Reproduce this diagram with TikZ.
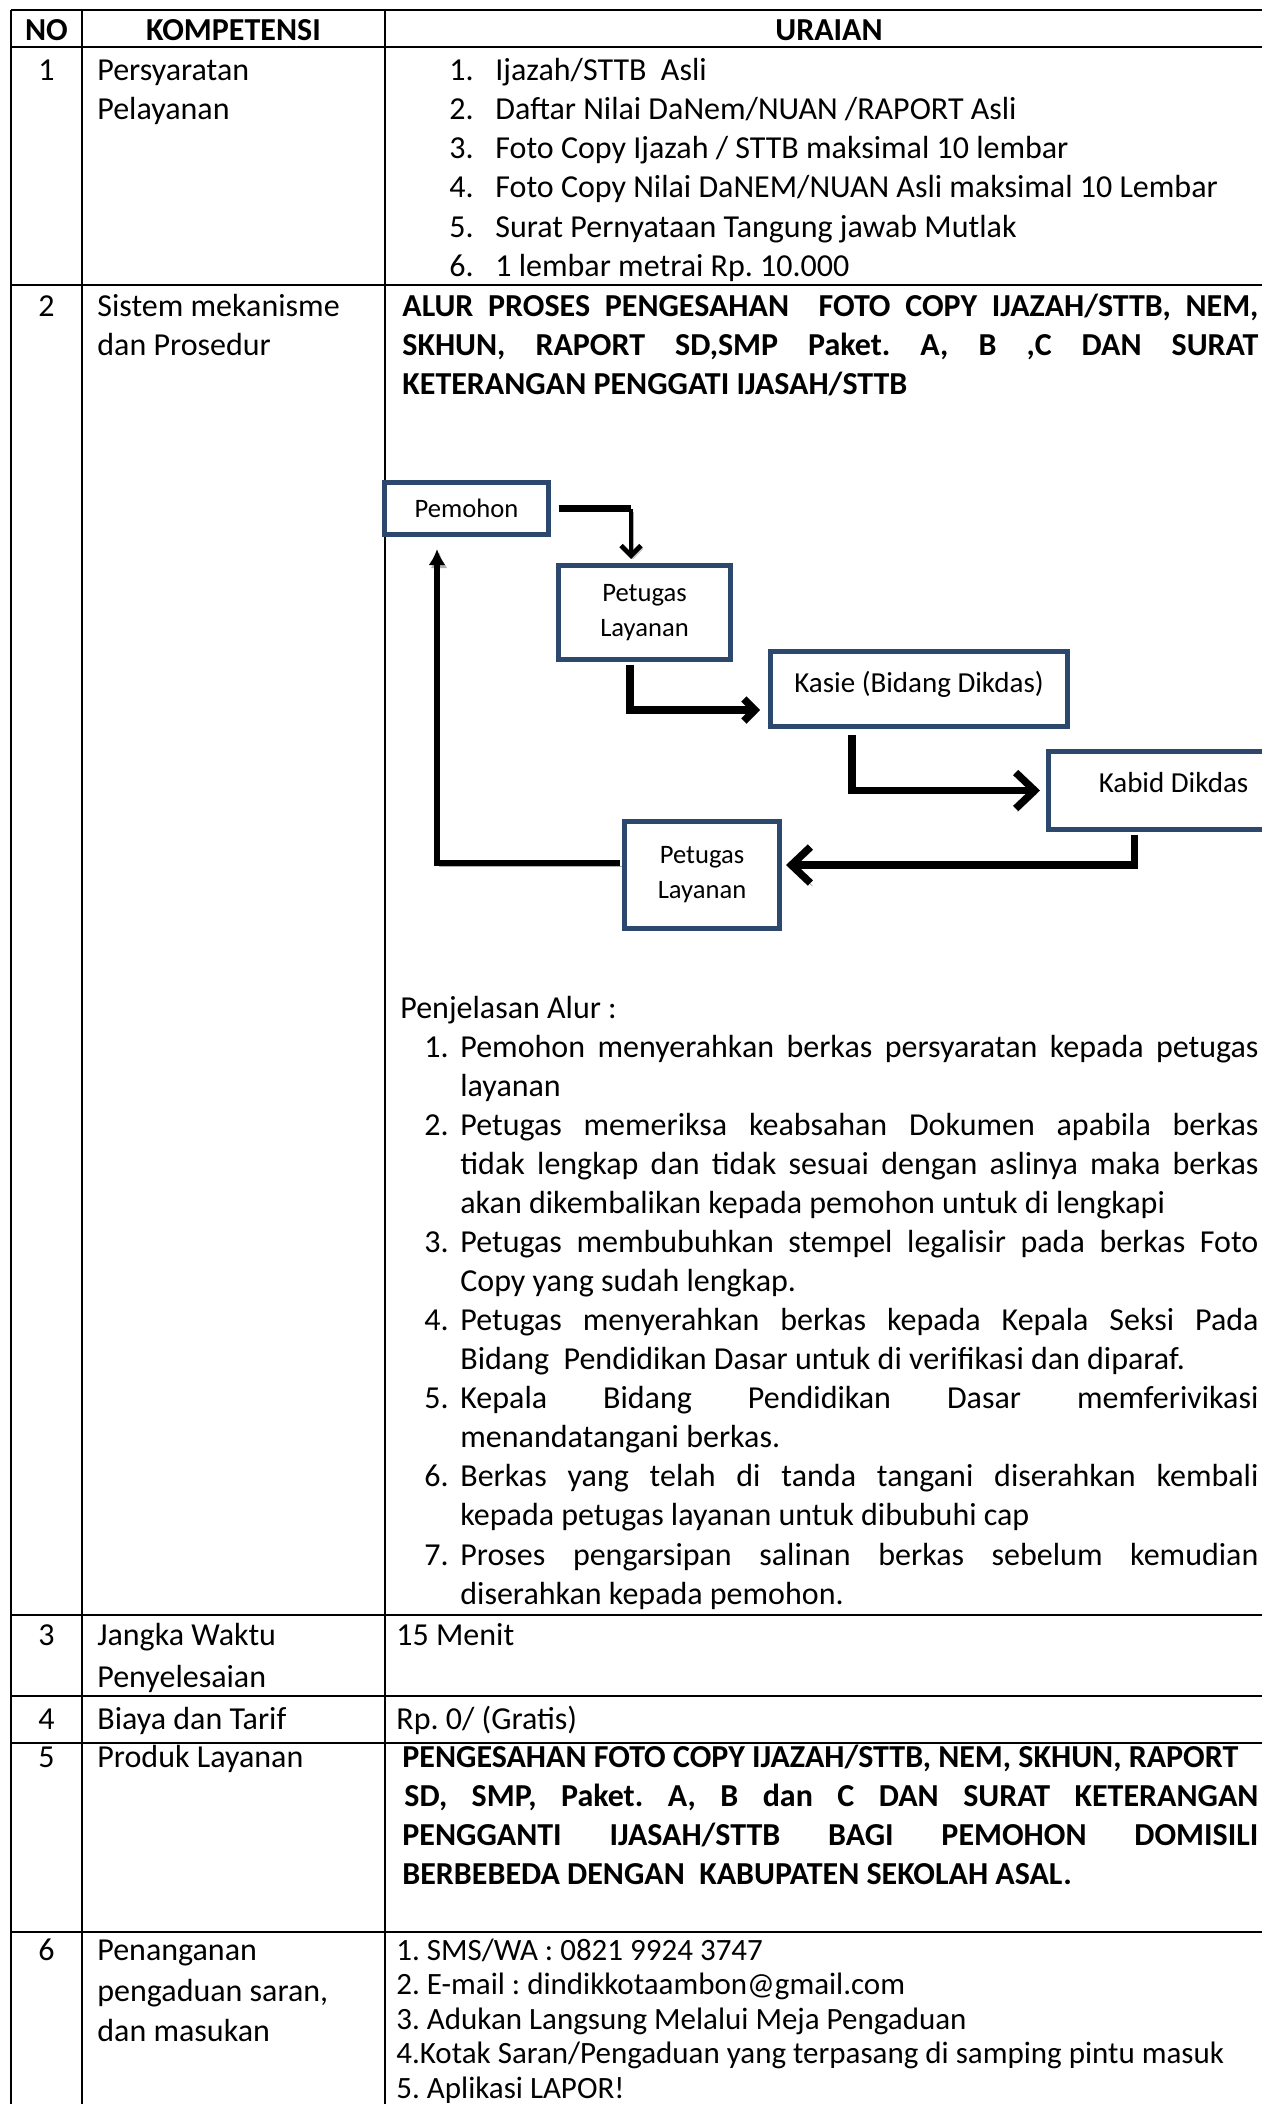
\documentclass[tikz,border=0pt]{standalone}
\usepackage{fontspec}
\setmainfont{Carlito}
\usetikzlibrary{arrows.meta,positioning}
\frenchspacing
\definecolor{boxblue}{RGB}{44,72,108}
\definecolor{shade}{RGB}{140,140,140}
\newcommand{\jline}[2]{\makebox[#1][s]{#2}}
\tikzset{
    rule/.style={line width=1.2pt},
    txt/.style={anchor=base west, inner sep=0pt, font=\fontsize{16}{19}\selectfont},
    num/.style={anchor=base, inner sep=0pt, font=\fontsize{16}{19}\selectfont},
    head/.style={anchor=base, inner sep=0pt, font=\fontsize{16}{19}\selectfont\bfseries},
    btxt/.style={txt, font=\fontsize{16}{19}\selectfont\bfseries},
    stxt/.style={txt, font=\fontsize{15.5}{18}\selectfont},
    flowbox/.style={draw=boxblue, line width=2.5pt, fill=white, align=center,
        inner sep=0pt, font=\fontsize{13.3}{17.5}\selectfont},
    shadowed/.style={preaction={draw=shade!70, transform canvas={xshift=1pt,yshift=-1.5pt}}},
    flow/.style={line width=3.7pt, shadowed},
    smallbarb/.style={-{Straight Barb[length=5.5pt,width=11pt]}},
    bigbarb/.style={-{Straight Barb[length=9.5pt,width=18pt]}}
}
\begin{document}
\begin{tikzpicture}[x=0.5pt, y=-0.5pt]
\useasboundingbox (0,0) rectangle (1262,2104);
\clip (0,0) rectangle (1262,2104);

% table rules
\foreach \r in {10,47,285,1615,1696,1743,1932}
    \draw[rule] (11,\r) -- (1280,\r);
\foreach \c in {11,82,385}
    \draw[rule] (\c,10) -- (\c,2120);

% header
\node[head] (hno) at (46.5,40) {NO};
\node[head] (hkomp) at (233.5,40) {KOMPETENSI};
\node[head] (hurai) at (829,40) {URAIAN};

% row 1
\node[num] (no1) at (46.5,80) {1};
\node[txt] (komp1) at (97,80) {Persyaratan};
\node[txt] (komp1b) at (97,119) {Pelayanan};
\foreach \t [count=\k] in {{Ijazah/STTB\ \ Asli},
        {Daftar Nilai DaNem/NUAN /RAPORT Asli},
        {Foto Copy Ijazah / STTB maksimal 10 lembar},
        {Foto Copy Nilai DaNEM/NUAN Asli maksimal 10 Lembar},
        {Surat Pernyataan Tangung jawab Mutlak},
        {1 lembar metrai Rp. 10.000}}{
    \node[txt] (reqn\k) at (449,{80+39.3*(\k-1)}) {\k.};
    \node[txt] (req\k) at (495,{80+39.3*(\k-1)}) {\t};
}

% row 2
\node[num] (no2) at (46.5,316) {2};
\node[txt] (komp2) at (97,316) {Sistem mekanisme};
\node[txt] (komp2b) at (97,355) {dan Prosedur};
\node[btxt] (ttl1) at (402,316) {\jline{428pt}{ALUR PROSES PENGESAHAN\ \ FOTO COPY IJAZAH/STTB, NEM,}};
\node[btxt] (ttl2) at (402,355) {\jline{428pt}{SKHUN, RAPORT SD,SMP Paket. A, B ,C DAN SURAT}};
\node[btxt] (ttl3) at (402,394) {KETERANGAN PENGGATI IJASAH/STTB};

% flow chart
\node[flowbox, minimum width=82pt, minimum height=26pt] (pemohon) at (466.5,508.5) {Pemohon};
\node[flowbox, minimum width=86pt, minimum height=47pt] (petugasA) at (644.5,612.5) {Petugas\\Layanan};
\node[flowbox, minimum width=148.5pt, minimum height=37.5pt, font=\fontsize{14.5}{17.5}\selectfont,
    text height=10.9pt, text depth=7.5pt] (kasie) at (919,689) {Kasie (Bidang Dikdas)};
\node[flowbox, anchor=west, minimum width=125.5pt, minimum height=39pt, font=\fontsize{14.5}{17.5}\selectfont,
    text height=10.9pt, text depth=9pt] (kabid) at (1045.5,790.5) {Kabid Dikdas};
\node[flowbox, minimum width=77.5pt, minimum height=53.5pt] (petugasB) at (702,875) {Petugas\\Layanan};

\coordinate (bend1) at (631,508.5);
\draw[flow, shorten <=3.75pt] (pemohon.east) -- (bend1);
\draw[line width=2.4pt, shadowed, -{Straight Barb[length=5pt,width=10pt]}, shorten >=2pt]
    (bend1) -- (bend1 |- petugasA.north);
\draw[flow, smallbarb, shorten <=1.25pt, shorten >=4pt]
    ([xshift=-7.25pt]petugasA.south) |- ([yshift=-10.5pt]kasie.west);
\draw[flow, bigbarb, shorten <=2.75pt, shorten >=2.75pt]
    ([xshift=-33.5pt]kasie.south) |- (kabid.west);
\draw[flow, bigbarb, shorten <=1.25pt, shorten >=2pt]
    ([xshift=-19.5pt]kabid.south) |- ([yshift=5pt]petugasB.east);
\draw[line width=3pt, shadowed, -{Latex[length=8pt,width=8.5pt]}, shorten <=1.25pt, shorten >=6pt]
    ([yshift=6pt]petugasB.west) -| ([xshift=-14.75pt]pemohon.south);

% explanation
\node[txt] (alur) at (400,1018) {Penjelasan Alur :};
\foreach \k/\l in {1/1,2/3,3/6,4/8,5/10,6/12,7/14}
    \node[txt] (alurn\k) at (424,{1018+39.07*\l}) {\k.};
\node[txt] (al1) at (460,1057.1) {\jline{399pt}{Pemohon menyerahkan berkas persyaratan kepada petugas}};
\node[txt] (al2) at (460,1096.1) {layanan};
\node[txt] (al3) at (460,1135.2) {\jline{399pt}{Petugas memeriksa keabsahan Dokumen apabila berkas}};
\node[txt] (al4) at (460,1174.3) {\jline{399pt}{tidak lengkap dan tidak sesuai dengan aslinya maka berkas}};
\node[txt] (al5) at (460,1213.4) {akan dikembalikan kepada pemohon untuk di lengkapi};
\node[txt] (al6) at (460,1252.4) {\jline{399pt}{Petugas membubuhkan stempel legalisir pada berkas Foto}};
\node[txt] (al7) at (460,1291.5) {Copy yang sudah lengkap.};
\node[txt] (al8) at (460,1330.6) {\jline{399pt}{Petugas menyerahkan berkas kepada Kepala Seksi Pada}};
\node[txt] (al9) at (460,1369.6) {Bidang\ \ Pendidikan Dasar untuk di verifikasi dan diparaf.};
\node[txt] (al10) at (460,1408.7) {\jline{399pt}{Kepala Bidang Pendidikan Dasar memferivikasi}};
\node[txt] (al11) at (460,1447.8) {menandatangani berkas.};
\node[txt] (al12) at (460,1486.8) {\jline{399pt}{Berkas yang telah di tanda tangani diserahkan kembali}};
\node[txt] (al13) at (460,1525.9) {kepada petugas layanan untuk dibubuhi cap};
\node[txt] (al14) at (460,1565) {\jline{399pt}{Proses pengarsipan salinan berkas sebelum kemudian}};
\node[txt] (al15) at (460,1604.1) {diserahkan kepada pemohon.};

% row 3
\node[num] (no3) at (46.5,1645) {3};
\node[txt] (komp3) at (97,1645) {Jangka Waktu};
\node[txt] (komp3b) at (97,1687) {Penyelesaian};
\node[txt] (urai3) at (396,1645) {15 Menit};

% row 4
\node[num] (no4) at (46.5,1729) {4};
\node[txt] (komp4) at (97,1729) {Biaya dan Tarif};
\node[txt] (urai4) at (396,1729) {Rp. 0/ (Gratis)};

% row 5
\node[num] (no5) at (46.5,1767) {5};
\node[txt] (komp5) at (97,1767) {Produk Layanan};
\node[btxt] (prod1) at (402,1767) {PENGESAHAN FOTO COPY IJAZAH/STTB, NEM, SKHUN, RAPORT};
\node[btxt] (prod2) at (404,1806) {\jline{427pt}{SD, SMP, Paket. A, B dan C DAN SURAT KETERANGAN}};
\node[btxt] (prod3) at (402,1845) {\jline{428pt}{PENGGANTI IJASAH/STTB BAGI PEMOHON DOMISILI}};
\node[btxt] (prod4) at (402,1884) {BERBEBEDA DENGAN\ \ KABUPATEN SEKOLAH ASAL.};

% row 6
\node[num] (no6) at (46.5,1960) {6};
\node[txt] (komp6) at (97,1960) {Penanganan};
\node[txt] (komp6b) at (97,2001) {pengaduan saran,};
\node[txt] (komp6c) at (97,2041) {dan masukan};
\foreach \t [count=\k] in {{1. SMS/WA : 0821 9924 3747},
        {2. E-mail : dindikkotaambon@gmail.com},
        {3. Adukan Langsung Melalui Meja Pengaduan},
        {4.Kotak Saran/Pengaduan yang terpasang di samping pintu masuk},
        {5. Aplikasi LAPOR!}}
    \node[stxt] (adu\k) at (396,{1960+34.5*(\k-1)}) {\t};
\end{tikzpicture}
\end{document}
